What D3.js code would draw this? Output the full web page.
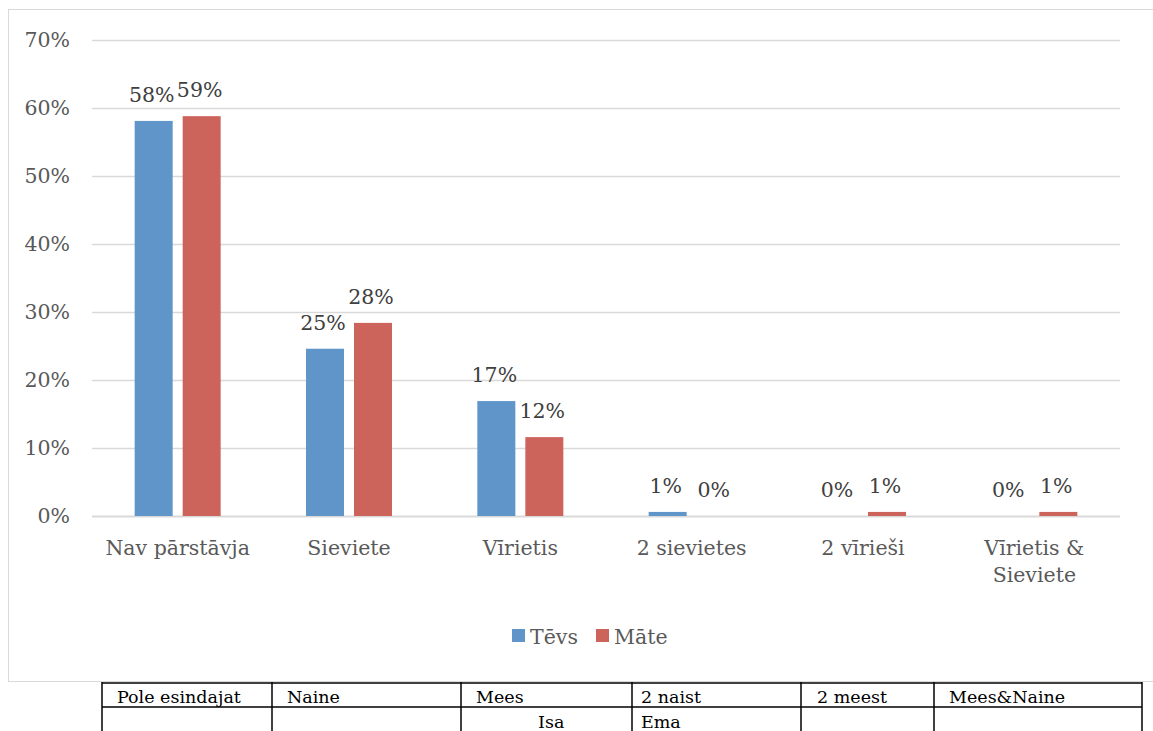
<!DOCTYPE html>
<html>
<head>
<meta charset="utf-8">
<script src="https://cdn.jsdelivr.net/npm/d3@7"></script>
<style>
  body { margin: 0; background: #fff; }
  svg { display: block; }
</style>
</head>
<body>
<div id="chart"></div>
<script>
  // chart data
  var categories = ["Nav pārstāvja", "Sieviete", "Vīrietis", "2 sievietes", "2 vīrieši", "Vīrietis & Sieviete"];
  var series = ["Tēvs", "Māte"];
  var tevsValues = [0.581, 0.246, 0.169, 0.006, 0, 0];
  var mateValues = [0.588, 0.284, 0.116, 0, 0.006, 0.006];
  var seriesColors = ["#5f95c9", "#cd645c"];
  var yTicks = [0, 0.1, 0.2, 0.3, 0.4, 0.5, 0.6, 0.7];

  // table under the chart
  var tableHeader = ["Pole esindajat", "Naine", "Mees", "2 naist", "2 meest", "Mees&Naine"];
  var tableRow2 = ["", "", "Isa", "Ema", "", ""];
  var tableCols = [102, 272, 461, 632, 801, 934, 1142];

  var width = 1153, height = 731;
  var svg = d3.select("#chart").append("svg")
      .attr("width", width)
      .attr("height", height);

  var font = "'DejaVu Serif', serif";

  // outer chart border
  svg.append("rect")
      .attr("x", 8.5).attr("y", 9.5)
      .attr("width", 1150).attr("height", 672)
      .attr("fill", "none")
      .attr("stroke", "#d9d9d9");

  var x0 = d3.scaleBand().domain(categories).range([92, 1120]);
  var x1 = d3.scaleBand().domain(series).range([0, 86]).paddingInner(10 / 48);
  var y = d3.scaleLinear().domain([0, 0.7]).range([516, 40]);

  // gridlines
  svg.append("g").selectAll("line")
      .data(yTicks)
      .enter().append("line")
      .attr("x1", 92).attr("x2", 1120)
      .attr("y1", function(d) { return Math.round(y(d)) + 0.5; })
      .attr("y2", function(d) { return Math.round(y(d)) + 0.5; })
      .attr("stroke", "#d9d9d9")
      .attr("stroke-width", function(d) { return d === 0 ? 2 : 1.5; });

  // y tick labels
  svg.append("g").selectAll("text")
      .data(yTicks)
      .enter().append("text")
      .attr("x", 70)
      .attr("y", function(d) { return y(d) + 7; })
      .attr("text-anchor", "end")
      .attr("font-family", font)
      .attr("font-size", 20.5)
      .attr("fill", "#595959")
      .text(d3.format(".0%"));

  var rows = categories.map(function(c, i) {
    return { cat: c, values: [tevsValues[i], mateValues[i]] };
  });

  var groups = svg.append("g").selectAll("g")
      .data(rows)
      .enter().append("g")
      .attr("transform", function(d) {
        return "translate(" + (x0(d.cat) + x0.bandwidth() / 2 - 43) + ",0)";
      });

  groups.selectAll("rect")
      .data(function(d) { return d.values.map(function(v, i) { return { s: series[i], v: v, i: i }; }); })
      .enter().append("rect")
      .attr("x", function(d) { return x1(d.s); })
      .attr("width", x1.bandwidth())
      .attr("y", function(d) { return y(d.v); })
      .attr("height", function(d) { return y(0) - y(d.v); })
      .attr("fill", function(d) { return seriesColors[d.i]; });

  groups.selectAll("text")
      .data(function(d) { return d.values.map(function(v, i) { return { s: series[i], v: v, i: i }; }); })
      .enter().append("text")
      .attr("x", function(d) { return x1(d.s) + x1.bandwidth() / 2 - 2; })
      .attr("y", function(d) { return y(d.v) - 19; })
      .attr("text-anchor", "middle")
      .attr("font-family", font)
      .attr("font-size", 20.5)
      .attr("fill", "#404040")
      .text(function(d) { return d3.format(".0%")(d.v); });

  // category labels
  var catLabels = svg.append("g").selectAll("text")
      .data(categories)
      .enter().append("text")
      .attr("x", function(d) { return x0(d) + x0.bandwidth() / 2; })
      .attr("y", 555)
      .attr("text-anchor", "middle")
      .attr("font-family", font)
      .attr("font-size", 20.5)
      .attr("fill", "#595959");

  catLabels.each(function(d) {
    var t = d3.select(this);
    var parts = d === "Vīrietis & Sieviete" ? ["Vīrietis &", "Sieviete"] : [d];
    parts.forEach(function(p, k) {
      t.append("tspan")
        .attr("x", x0(d) + x0.bandwidth() / 2)
        .attr("dy", k === 0 ? 0 : 27)
        .text(p);
    });
  });

  // legend
  var legendX = [512, 596];
  var legend = svg.append("g").selectAll("g")
      .data(series)
      .enter().append("g")
      .attr("transform", function(d, i) { return "translate(" + legendX[i] + ",629)"; });
  legend.append("rect")
      .attr("width", 13).attr("height", 13)
      .attr("fill", function(d, i) { return seriesColors[i]; });
  legend.append("text")
      .attr("x", 18).attr("y", 15)
      .attr("font-family", font)
      .attr("font-size", 20.5)
      .attr("fill", "#595959")
      .text(function(d) { return d; });

  // table
  var table = svg.append("g");
  [683, 707].forEach(function(yy) {
    table.append("line")
      .attr("x1", tableCols[0]).attr("x2", tableCols[tableCols.length - 1])
      .attr("y1", yy).attr("y2", yy)
      .attr("stroke", "#000").attr("stroke-width", 1.5);
  });
  tableCols.forEach(function(xx) {
    table.append("line")
      .attr("x1", xx).attr("x2", xx)
      .attr("y1", 682).attr("y2", 731)
      .attr("stroke", "#000").attr("stroke-width", 1.5);
  });
  var headerX = [117, 287, 476, 641, 817, 949];
  table.selectAll("text.h")
      .data(tableHeader)
      .enter().append("text")
      .attr("class", "h")
      .attr("x", function(d, i) { return headerX[i]; })
      .attr("y", 703)
      .attr("font-family", font)
      .attr("font-size", 17.5)
      .attr("fill", "#000")
      .text(function(d) { return d; });
  var row2X = [0, 0, 538, 641, 0, 0];
  table.selectAll("text.r")
      .data(tableRow2)
      .enter().append("text")
      .attr("class", "r")
      .attr("x", function(d, i) { return row2X[i]; })
      .attr("y", 728)
      .attr("font-family", font)
      .attr("font-size", 17.5)
      .attr("fill", "#000")
      .text(function(d) { return d; });
</script>
</body>
</html>
